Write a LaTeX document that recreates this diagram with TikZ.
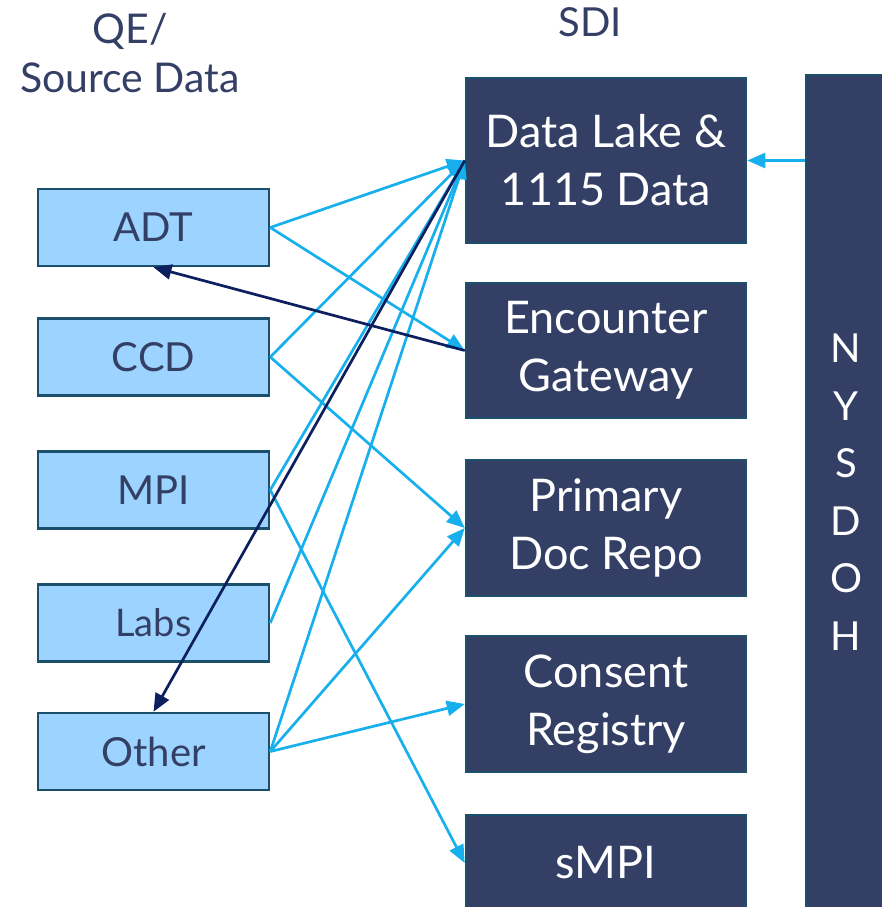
\documentclass[tikz,border=0pt]{standalone}
\usepackage{fontspec}
\setmainfont{Lato}
\usetikzlibrary{arrows.meta}
\definecolor{navy}{HTML}{343F66}
\definecolor{edge}{HTML}{1C4F6B}
\definecolor{light}{HTML}{9DD3FF}
\definecolor{sky}{HTML}{17B0EC}
\definecolor{deep}{HTML}{0C1F5E}
\tikzset{
  src/.style={draw=edge, line width=2.5pt, fill=light, minimum width=231pt, minimum height=77pt, text=navy, font=\fontsize{40}{48}\selectfont},
  sdi/.style={draw=edge, line width=2.5pt, fill=navy, minimum width=280pt, text=white, align=center, font=\fontsize{45}{58}\selectfont},
  feed/.style={draw=sky, line width=2.7pt, -{Triangle[length=18pt,width=15pt]}},
  back/.style={draw=deep, line width=2.7pt, -{Triangle[length=18pt,width=15pt]}}
}
\begin{document}
\begin{tikzpicture}[x=1pt,y=-1pt]
\useasboundingbox (0,0) rectangle (882,907);

% headers
\node[text=navy, align=center, font=\fontsize{41}{49}\selectfont] (qe) at (130,53) {QE/\\Source Data};
\node[text=navy, font=\fontsize{40}{48}\selectfont] (sdi) at (590,22) {SDI};

% source boxes
\node[src] (adt) at (153.5,227.5) {ADT};
\node[src] (ccd) at (153.5,357) {CCD};
\node[src] (mpi) at (153.5,490) {MPI};
\node[src, font=\fontsize{38}{44}\selectfont] (labs) at (153.5,623) {Labs};
\node[src] (other) at (153.5,751.5) {Other};

% SDI boxes
\node[sdi, minimum height=165pt] (lake) at (606,160.5) {Data Lake \&\\1115 Data};
\node[sdi, minimum height=135pt] (eg) at (606,350.5) {Encounter\\Gateway};
\node[sdi, minimum height=136pt] (pdr) at (606,528) {Primary\\Doc Repo};
\node[sdi, minimum height=136pt] (cr) at (606,704) {Consent\\Registry};
\node[sdi, minimum height=96pt] (smpi) at (606,863) {sMPI};

% NYSDOH
\node[draw=edge, line width=2.5pt, fill=navy, minimum width=80pt, minimum height=834pt, text=white, align=center, font=\fontsize{40}{57.5}\selectfont] (nys) at (846,492) {N\\Y\\S\\D\\O\\H};

% feeds
\foreach \a/\b in {adt/lake, adt/eg, ccd/lake, ccd/pdr, mpi/lake, mpi/smpi, labs/lake, other/lake, other/pdr, other/cr}
  \draw[feed] (\a.east) -- (\b.west);
\draw[feed] (nys.west |- lake.east) -- (lake.east);

\draw[back] (eg.west) -- (adt.south);
\draw[back] (lake.west) -- (other.north);

\end{tikzpicture}
\end{document}
